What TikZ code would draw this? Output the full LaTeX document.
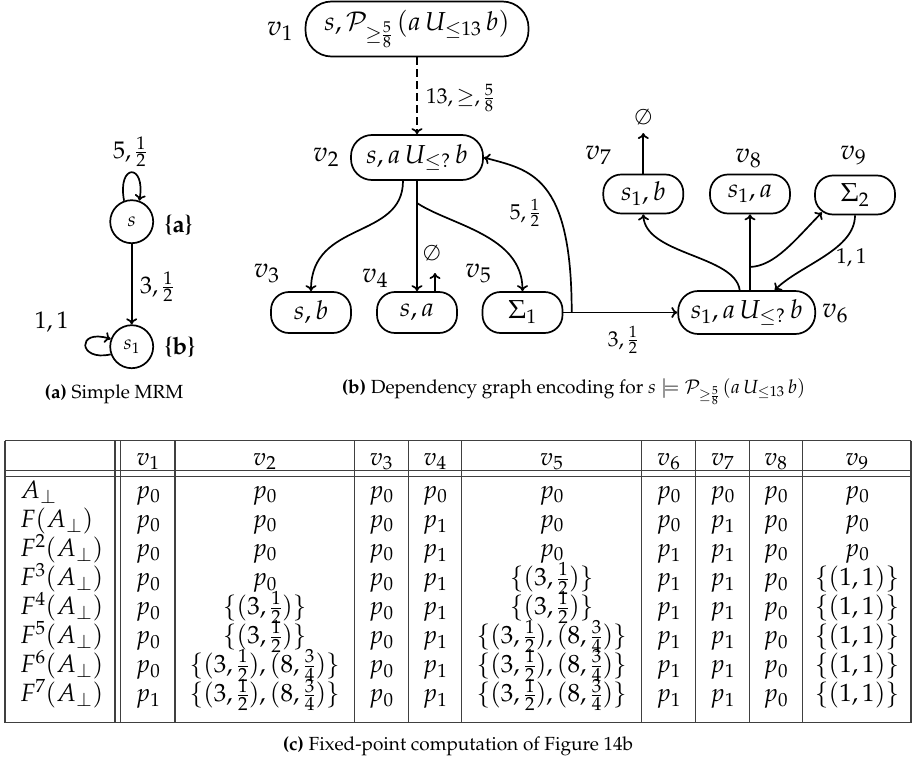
\documentclass[tikz,border=0pt]{standalone}
\usepackage[T1]{fontenc}
\usepackage{mathpazo}
\usetikzlibrary{arrows.meta}
\newcommand\fGN{\fontsize{26}{31}\selectfont}
\newcommand\fGV{\fontsize{28}{34}\selectfont}
\newcommand\fGL{\fontsize{21.5}{26}\selectfont}
\newcommand\fML{\fontsize{24}{29}\selectfont}
\newcommand\fMC{\fontsize{20}{24}\selectfont}
\newcommand\fTab{\fontsize{25}{30}\selectfont}
\newcommand\fCap{\fontsize{19}{23}\selectfont}
\newcommand\pz{$p_0$}
\newcommand\po{$p_1$}
\newcommand\hA{$\{(3,\frac{1}{2})\}$}
\newcommand\hB{$\{(3,\frac{1}{2}),(8,\frac{3}{4})\}$}
\newcommand\hC{$\{(1,1)\}$}
\newcommand\rowlab[1]{\ifcase#1 $A_\perp$\or $F(A_\perp)$\else $F^{#1}(A_\perp)$\fi}
\begin{document}
\begin{tikzpicture}[x=1pt,y=-1pt,
  >={To[length=6pt,width=11pt]},
  gline/.style={line width=1.7pt},
  gnode/.style={draw,line width=1.7pt,rounded corners=18pt,minimum width=80pt,minimum height=41pt,inner sep=0pt,font=\fGN},
  vlab/.style={font=\fGV,inner sep=0pt},
  elab/.style={font=\fGL,inner sep=0pt},
  mstate/.style={draw,circle,line width=1.7pt,minimum size=43pt,inner sep=0pt,font=\fMC},
  mlab/.style={font=\fML,inner sep=0pt},
  tcell/.style={anchor=base,font=\fTab,inner sep=0pt},
  tline/.style={line width=1.1pt,draw=black!75},
  capt/.style={font=\fCap,inner sep=0pt,anchor=base}]
\useasboundingbox (0,0) rectangle (912,765);

% ---------- (a) MRM ----------
\node[mstate] (s) at (131.7,221.7) {$s$};
\node[mstate] (s1) at (131.7,346.7) {$s_1$};
\node[mlab,anchor=west] (pa) at (165,225) {\textbf{\{a\}}};
\node[mlab,anchor=west] (pb) at (165,347) {\textbf{\{b\}}};
\draw[gline,->] (s) -- (s1);
\node[mlab,anchor=west] (l31) at (140,286.7) {$3,\frac{1}{2}$};
\draw[gline,->] (s.110) .. controls (117,163) and (146,163) .. (s.70);
\node[mlab] (l51) at (130,151.7) {$5,\frac{1}{2}$};
\draw[gline,->] (s1.200) .. controls (78,362) and (76,328) .. (s1.160);
\node[mlab] (l11) at (51.7,321.7) {$1,1$};

% ---------- (b) dependency graph ----------
\node[gnode,minimum width=223pt,minimum height=55pt,rounded corners=26pt] (v1) at (417,29) {$s,\mathcal{P}_{\geq\frac{5}{8}}\,(a\,U_{\leq 13}\,b)$};
\node[vlab] (l1) at (280,31) {$v_1$};
\node[gnode,minimum width=132pt,minimum height=45pt,rounded corners=21pt] (v2) at (417,157.5) {$s,a\,U_{\leq ?}\,b$};
\node[vlab] (l2) at (326,157) {$v_2$};
\node[gnode] (v3) at (311,312.5) {$s,b$};
\node[gnode] (v4) at (417,312.5) {$s,a$};
\node[gnode] (v5) at (522.5,312.5) {$\Sigma_1$};
\node[vlab] (l3) at (266.7,273.3) {$v_3$};
\node[vlab] (l4) at (375,278.3) {$v_4$};
\node[vlab] (l5) at (478.3,273.3) {$v_5$};
\node[gnode,minimum width=137pt,minimum height=43pt,rounded corners=20pt] (v6) at (746.7,312.5) {$s_1,a\,U_{\leq ?}\,b$};
\node[vlab] (l6) at (835,313) {$v_6$};
\node[gnode,minimum height=39pt] (v7) at (643.3,194) {$s_1,b$};
\node[gnode,minimum height=39pt] (v8) at (750,194) {$s_1,a$};
\node[gnode,minimum height=39pt] (v9) at (855,195) {$\Sigma_2$};
\node[vlab] (l7) at (598.3,155) {$v_7$};
\node[vlab] (l8) at (748.3,158.3) {$v_8$};
\node[vlab] (l9) at (853.3,155) {$v_9$};
\node[elab] (emp7) at (643.3,116.7) {$\emptyset$};
\node[elab] (emp4) at (432,253) {$\emptyset$};
\coordinate (e7) at (643.3,133);
\coordinate (e4) at (435,273);
\coordinate (b25) at (417,203);
\coordinate (j56) at (571.7,312.5);
\coordinate (j69) at (750,267);

\draw[gline,->,dash pattern=on 8pt off 4pt] (v1) -- (v2);
\node[elab,anchor=west] (lab12) at (426,98) {$13,\geq,\frac{5}{8}$};
\draw[gline,->] ([xshift=-14pt]v2.south) .. controls (403,240) and (311,220) .. (v3.north);
\draw[gline,->] (v2.south) -- (v4.north);
\draw[gline,->] (b25) .. controls (450,225) and (522.5,235) .. (v5.north);
\draw[gline,->] ([xshift=18pt]v4.north) -- (e4);
\draw[gline,->] (v5.east) -- (v6.west);
\node[elab] (lab56) at (623,340) {$3,\frac{1}{2}$};
\draw[gline,->] (j56) .. controls (571.7,175) and (530,170) .. (v2.east);
\node[elab] (lab52) at (525,213) {$5,\frac{1}{2}$};
\draw[gline,->] (v7.north) -- (e7);
\draw[gline,->] ([xshift=-7pt]v6.north) .. controls (735,255) and (645,255) .. (v7.south);
\draw[gline,->] (v8.south |- v6.north) -- (v8.south);
\draw[gline,->] (j69) .. controls (775,266) and (795,240) .. ([xshift=-33pt,yshift=3pt]v9.south);
\draw[gline,->] (v9.south) .. controls (855,250) and (800,265) .. ([xshift=28pt]v6.north);
\node[elab,anchor=west] (lab96) at (836,258) {$1,1$};

% ---------- captions ----------
\node[capt] (ca) at (114,398) {\textbf{(a)} Simple MRM};
\node[capt,anchor=base west] (cb) at (341.7,393) {\textbf{(b)} Dependency graph encoding for $s\models\mathcal{P}_{\geq\frac{5}{8}}\,(a\,U_{\leq 13}\,b)$};
\node[capt] (cc) at (458,750) {\textbf{(c)} Fixed-point computation of Figure 14b};

% ---------- (c) table ----------
\foreach \xx in {5,115,120.7,175,354.3,408.3,461.7,641.7,695.7,749.3,802.3,911}
  \draw[tline] (\xx,440.7) -- (\xx,722.7);
\foreach \yy in {440.7,470.7,476.5,722.7}
  \draw[tline] (5,\yy) -- (911,\yy);
\node[tcell] (h1) at (148,465) {$v_1$};
\node[tcell] (h2) at (264.7,465) {$v_2$};
\node[tcell] (h3) at (381.3,465) {$v_3$};
\node[tcell] (h4) at (435,465) {$v_4$};
\node[tcell] (h5) at (551.7,465) {$v_5$};
\node[tcell] (h6) at (668.7,465) {$v_6$};
\node[tcell] (h7) at (722.5,465) {$v_7$};
\node[tcell] (h8) at (775.8,465) {$v_8$};
\node[tcell] (h9) at (857,465) {$v_9$};
\foreach \k/\qa/\qb/\qc/\qd/\qe/\qf/\qg/\qh/\qi in {
  0/\pz/\pz/\pz/\pz/\pz/\pz/\pz/\pz/\pz,
  1/\pz/\pz/\pz/\po/\pz/\pz/\po/\pz/\pz,
  2/\pz/\pz/\pz/\po/\pz/\po/\po/\pz/\pz,
  3/\pz/\pz/\pz/\po/\hA/\po/\po/\pz/\hC,
  4/\pz/\hA/\pz/\po/\hA/\po/\po/\pz/\hC,
  5/\pz/\hA/\pz/\po/\hB/\po/\po/\pz/\hC,
  6/\pz/\hB/\pz/\po/\hB/\po/\po/\pz/\hC,
  7/\po/\hB/\pz/\po/\hB/\po/\po/\pz/\hC}{
  \pgfmathsetmacro\yy{498.5+29.05*\k}
  \node[tcell,anchor=base west] (r\k) at (20,\yy) {\rowlab{\k}};
  \node[tcell] (t\k-1) at (148,\yy) {\qa};
  \node[tcell] (t\k-2) at (264.7,\yy) {\qb};
  \node[tcell] (t\k-3) at (381.3,\yy) {\qc};
  \node[tcell] (t\k-4) at (435,\yy) {\qd};
  \node[tcell] (t\k-5) at (551.7,\yy) {\qe};
  \node[tcell] (t\k-6) at (668.7,\yy) {\qf};
  \node[tcell] (t\k-7) at (722.5,\yy) {\qg};
  \node[tcell] (t\k-8) at (775.8,\yy) {\qh};
  \node[tcell] (t\k-9) at (857,\yy) {\qi};
}
\end{tikzpicture}
\end{document}
